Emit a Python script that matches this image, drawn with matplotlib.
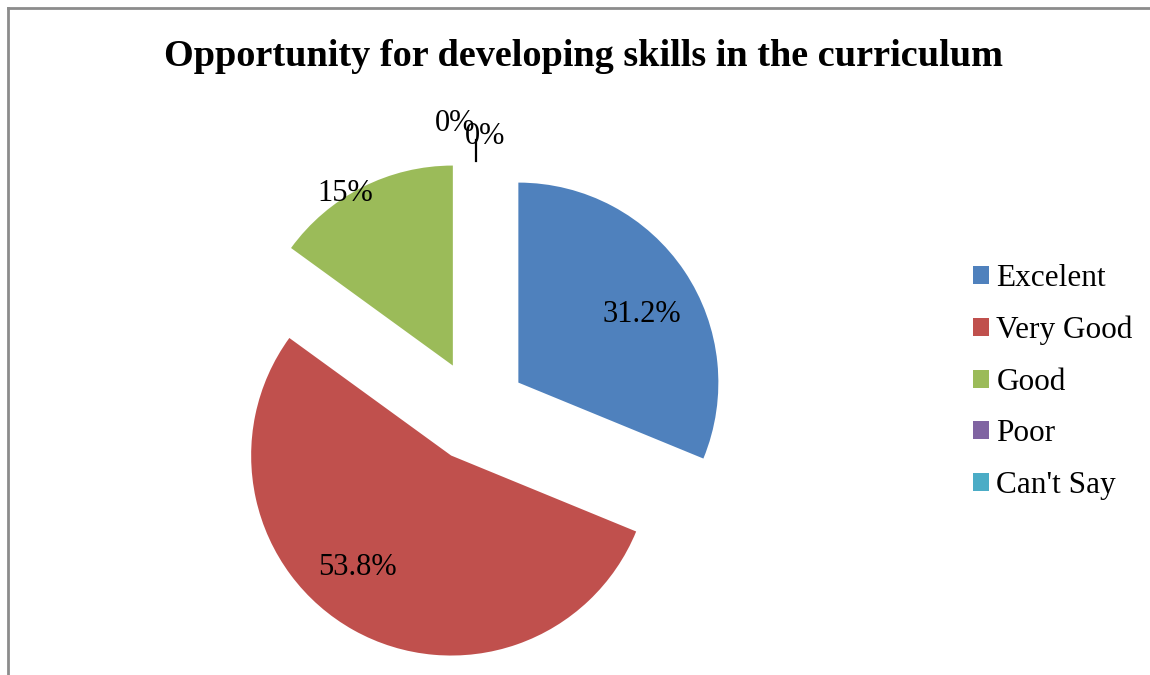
import matplotlib
matplotlib.use("Agg")
from matplotlib import pyplot as plt
from matplotlib.lines import Line2D
from matplotlib.patches import Patch

plt.rcParams["font.family"] = ["Liberation Serif", "DejaVu Serif"]

categories = ["Excelent", "Very Good", "Good", "Poor", "Can't Say"]
values = [31.2, 53.8, 15, 0, 0]
colors = ["#4F81BD", "#C0504D", "#9BBB59", "#8064A2", "#4BACC6"]
title = "Opportunity for developing skills in the curriculum"

# label placement (data units, pie radius = 1)
label_xy = [(0.83, 0.485), (-0.5925, -0.7825), (-0.655, 1.0875),
            (-0.105, 1.4375), (0.0475, 1.3725)]

fig = plt.figure(figsize=(11.5, 6.75), dpi=100)
ax = fig.add_axes([0, 0, 1, 1])

wedges, texts, autotexts = ax.pie(
    values,
    colors=colors,
    explode=[0.255] * len(values),
    startangle=90,
    counterclock=False,
    autopct=lambda p: f"{round(p, 1):g}%",
    textprops={"fontsize": 22, "color": "black"},
)
for t, xy in zip(autotexts, label_xy):
    t.set_position(xy)
    t.set_ha("center")
    t.set_va("center")

# leader line for the zero slices
ax.plot([0, 0], [1.25, 1.355], color="black", lw=1.6)

ax.set_aspect("equal")
ax.set_xlim(-2.38, 3.37)
ax.set_ylim(-1.32, 2.055)
ax.axis("off")

fig.text(0.5075, 0.917, title, ha="center", va="center",
         fontsize=27.5, fontweight="bold")

handles = [Patch(facecolor=c, edgecolor="none") for c in colors]
fig.legend(
    handles, categories,
    loc="center left",
    bbox_to_anchor=(0.8325, 0.434),
    frameon=False,
    fontsize=22.5,
    handlelength=0.5,
    handleheight=0.5,
    handletextpad=0.25,
    labelspacing=0.72,
    borderpad=0,
)

# outer chart frame (partially clipped by image edge)
fig.add_artist(Line2D([8 / 1150, 1], [1 - 8 / 675] * 2, color="#8c8c8c", lw=2))
fig.add_artist(Line2D([8 / 1150] * 2, [0, 1 - 8 / 675], color="#8c8c8c", lw=2))

fig.savefig("out.png", dpi=100)
